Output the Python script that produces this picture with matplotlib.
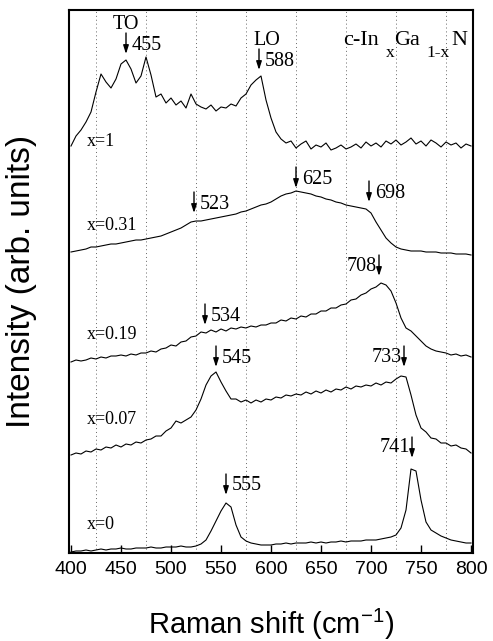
import numpy as np
import matplotlib
matplotlib.use("Agg")
import matplotlib.pyplot as plt

# Raman shift axis (cm-1), shared by all spectra
shift = np.arange(400, 805, 5)

# intensities (arb. units, already offset for stacking)
i_x1 = [407, 417, 423, 431, 441, 461, 479, 471, 465, 474, 489, 493, 484, 470, 477,
        496, 478,
        456, 459, 450, 455, 448, 452, 445, 459, 449, 446, 444, 448, 442, 446, 445,
        449, 447, 455,
        459, 468, 473, 477, 453, 435, 421,
        414, 410, 412, 405, 409, 412, 404, 408, 406, 410, 403, 405, 408, 404, 406,
        409, 405, 411, 407, 410, 406, 412, 409, 413, 408, 411, 415, 409, 412, 407,
        413, 410, 406, 411, 408, 410, 405, 409, 407]
i_x031 = [301, 302, 303, 304, 306, 306, 307, 308, 309, 309, 310, 311, 312, 313, 313,
          314, 315, 316, 317, 319, 321, 323, 325, 328, 331, 332, 332, 333, 334, 335,
          336, 337, 338, 339, 341, 342, 344, 346, 348, 349, 351, 354, 357, 359, 360,
          362, 361, 360, 359, 357, 356, 354, 353, 351, 350, 348, 347, 346, 345, 344,
          340, 331, 323, 315, 310, 306, 304, 303, 302, 302, 302, 301, 301, 301, 300,
          300, 300, 299, 299, 299, 298]
i_x019 = [191, 193, 192, 193, 195, 194, 196, 195, 197, 197, 198, 197, 199, 198, 200,
          200, 202, 201, 204, 205, 208, 207, 211, 212, 216, 217, 221, 220, 223, 221,
          224, 222, 225, 224, 226, 225, 227, 226, 228, 228, 230, 230, 233, 232, 235,
          234, 237, 236, 239, 239, 242, 242, 245, 245, 248, 249, 253, 254, 258, 260,
          264, 266, 270, 268, 262, 250, 235, 225, 222, 217, 212, 207, 204, 202, 201,
          200, 198, 199, 197, 198, 196]
i_x007 = [98, 100, 99, 102, 101, 104, 103, 106, 105, 108, 106, 109, 108, 111, 110,
          113, 114, 117, 117, 122, 125, 132, 130, 133, 136, 143, 154, 168, 177, 181,
          171, 162, 154, 154, 151, 153, 150, 153, 151, 154, 153, 156, 155, 158, 157,
          159, 158, 161, 159, 162, 160, 163, 161, 164, 163, 166, 164, 167, 166, 168,
          167, 170, 168, 171, 170, 174, 177, 176, 158, 138, 125, 121, 115, 114, 110,
          110, 107, 108, 105, 104, 100]
i_x0 = [1, 2, 2, 3, 2, 3, 4, 3, 4, 4, 5, 4, 4, 5, 5, 5, 6, 5, 5, 6, 6, 6, 7, 6, 6,
        7, 9, 13, 22, 32, 42, 50, 46, 28, 16, 12, 10, 9, 8, 8, 8, 9, 9, 10, 9, 10,
        10, 10, 11, 10, 11, 10, 11, 11, 12, 11, 12, 12, 12, 13, 13, 13, 14, 15, 16,
        18, 25, 43, 84, 82, 53, 31, 23, 20, 17, 15, 13, 12, 11, 10, 10]

spectra = [i_x1, i_x031, i_x019, i_x007, i_x0]
comp_labels = ["x=1", "x=0.31", "x=0.19", "x=0.07", "x=0"]
comp_label_y = [403, 319, 210, 125, 20]

# marked peaks: (label value, arrow tip height, text on left side?)
peaks = [
    (455, 499, False), (588, 483, False),
    (523, 340, False), (625, 365, False), (698, 351, False),
    (534, 228, False), (708, 277, True),
    (545, 186, False), (733, 186, True),
    (555, 58, False), (741, 95, True),
]

fig = plt.figure(figsize=(4.93, 6.41), dpi=100)
ax = fig.add_axes([69 / 493, 88 / 641, 404 / 493, 543 / 641])

for y in spectra:
    ax.plot(shift, y, color="black", lw=0.8)

for xg in range(425, 800, 50):
    ax.axvline(xg, color="#666666", lw=0.7, ls=(0, (1, 3)), zorder=0)

serif = "Liberation Serif"
for lab, yy in zip(comp_labels, comp_label_y):
    ax.text(416, yy, lab, family=serif, fontsize=13, va="bottom", ha="left")

for val, tip, left in peaks:
    ax.annotate("", xy=(val, tip), xytext=(val, tip + 21),
                arrowprops=dict(arrowstyle="-|>,head_length=0.5,head_width=0.16",
                                color="black", lw=1.0, shrinkA=0, shrinkB=0))
    if left:
        ax.text(val - 2, tip + 10, str(val), family=serif, fontsize=14.5,
                ha="right", va="center")
    else:
        ax.text(val + 6, tip + 9, str(val), family=serif, fontsize=14.5,
                ha="left", va="center")

ax.text(455, 529, "TO", family=serif, fontsize=14.5, ha="center", va="center")
ax.text(596, 513, "LO", family=serif, fontsize=14.5, ha="center", va="center")

# sample name with deep subscripts
ax.text(672, 508, "c-In", family=serif, fontsize=16, ha="left", va="baseline")
ax.text(715, 496, "x", family=serif, fontsize=12.5, ha="left", va="baseline")
ax.text(723, 508, "Ga", family=serif, fontsize=16, ha="left", va="baseline")
ax.text(755, 496, "1-x", family=serif, fontsize=12.5, ha="left", va="baseline")
ax.text(780, 508, "N", family=serif, fontsize=16, ha="left", va="baseline")

ax.set_xlim(398, 802)
ax.set_ylim(0, 543)
ax.set_xticks(range(400, 801, 50))
ax.set_yticks([])
ax.tick_params(axis="x", direction="in", length=6, width=1, pad=6, labelsize=14)
for t in ax.get_xticklabels():
    t.set_family("Liberation Sans")
for s in ax.spines.values():
    s.set_linewidth(1.5)

plt.rcParams["mathtext.default"] = "regular"
ax.set_xlabel("Raman shift (cm$^{-1}$)", family="Liberation Sans", fontsize=21)
ax.set_ylabel("Intensity (arb. units)", family="Liberation Sans", fontsize=24)
ax.xaxis.set_label_coords(0.5, -0.1)
ax.yaxis.set_label_coords(-0.08, 0.5)

fig.savefig("out.png", dpi=100)
